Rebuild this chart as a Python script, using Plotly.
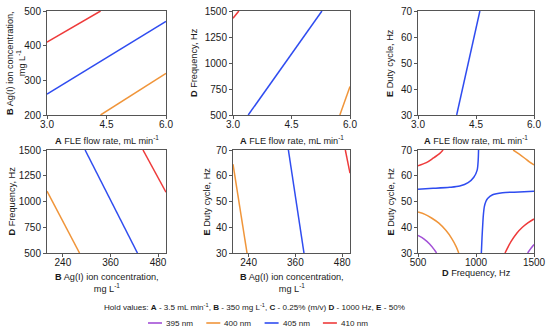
import plotly.graph_objects as go

W, H = 550, 335
FONT = "Liberation Sans, Arial, Helvetica, sans-serif"

wavelengths = ["395 nm", "400 nm", "405 nm", "410 nm"]
colors = {"395 nm": "#a24fd6", "400 nm": "#f0953a", "405 nm": "#2f4cf0", "410 nm": "#ee3a3a"}

# Panel 1: A (x) vs B (y)
p1_x_410 = [3.0, 4.35]; p1_y_410 = [410, 500]
p1_x_405 = [3.0, 6.0];  p1_y_405 = [260, 470]
p1_x_400 = [4.35, 6.0]; p1_y_400 = [200, 320]

# Panel 2: A (x) vs D (y)
p2_x_410 = [3.0, 3.15]; p2_y_410 = [1430, 1500]
p2_x_405 = [3.39, 5.28]; p2_y_405 = [500, 1500]
p2_x_400 = [5.74, 6.0]; p2_y_400 = [500, 775]

# Panel 3: A (x) vs E (y)
p3_x_405 = [4.0, 4.6]; p3_y_405 = [30, 70]

# Panel 4: B (x) vs D (y)
p4_x_400 = [200, 282]; p4_y_400 = [1100, 500]
p4_x_405 = [296, 428]; p4_y_405 = [1500, 500]
p4_x_410 = [442, 500]; p4_y_410 = [1500, 1090]

# Panel 5: B (x) vs E (y)
p5_x_400 = [200, 236]; p5_y_400 = [64.5, 30]
p5_x_405 = [342, 382]; p5_y_405 = [70, 30]
p5_x_410 = [488, 500]; p5_y_410 = [70, 61]

# Panel 6: D (x) vs E (y)  (None separates branches)
p6_x_405 = [500, 630, 774, 860, 932, 981, 1010, 1019, 1022, None,
            1046, 1052, 1058, 1064, 1072, 1085, 1100, 1143, 1229, 1371, 1500]
p6_y_405 = [54.8, 55.1, 55.5, 56.0, 57.3, 59.4, 62.2, 66.1, 70, None,
            30, 36, 41, 45, 48, 50, 51.2, 52.6, 53.4, 53.7, 54.0]
p6_x_410 = [500, 572, 630, 688, 716, None, 1250, 1300, 1350, 1400, 1450, 1500]
p6_y_410 = [63.9, 65.1, 66.8, 68.7, 70, None, 30, 34.3, 37.6, 40, 41.8, 43.2]
p6_x_400 = [500, 560, 620, 680, 740, 790, 830, 851, None, 1320, 1370, 1420, 1460, 1500]
p6_y_400 = [45.9, 45.0, 43.5, 41.6, 38.8, 35.7, 32.4, 30, None, 70, 68.5, 66.8, 65.4, 64.2]
p6_x_395 = [500, 550, 600, 640, 660, None, 1445, 1470, 1500]
p6_y_395 = [36.8, 35.5, 33.5, 31.3, 30, None, 30, 31.6, 33.3]

panels = [
    [("410 nm", p1_x_410, p1_y_410), ("405 nm", p1_x_405, p1_y_405), ("400 nm", p1_x_400, p1_y_400)],
    [("410 nm", p2_x_410, p2_y_410), ("405 nm", p2_x_405, p2_y_405), ("400 nm", p2_x_400, p2_y_400)],
    [("405 nm", p3_x_405, p3_y_405)],
    [("400 nm", p4_x_400, p4_y_400), ("405 nm", p4_x_405, p4_y_405), ("410 nm", p4_x_410, p4_y_410)],
    [("400 nm", p5_x_400, p5_y_400), ("405 nm", p5_x_405, p5_y_405), ("410 nm", p5_x_410, p5_y_410)],
    [("395 nm", p6_x_395, p6_y_395), ("400 nm", p6_x_400, p6_y_400),
     ("405 nm", p6_x_405, p6_y_405), ("410 nm", p6_x_410, p6_y_410)],
]

# axis factors
A_range = [3.0, 6.0]; A_ticks = [3.0, 4.5, 6.0]
B_range = [200, 500]; B_ticks_y = [200, 300, 400, 500]; B_ticks_x = [240, 360, 480]
D_range = [500, 1500]; D_ticks_y = [500, 750, 1000, 1250, 1500]; D_ticks_x = [500, 1000, 1500]
E_range = [30, 70]; E_ticks = [30, 40, 50, 60, 70]

A_title = "<b>A</b> FLE flow rate, mL min<sup>-1</sup>"
B_title = "<b>B</b> Ag(I) ion concentration,<br>mg L<sup>-1</sup>"
D_title = "<b>D</b> Frequency, Hz"
E_title = "<b>E</b> Duty cycle, Hz"

hold_text = ("Hold values: <b>A</b> - 3.5 mL min<sup>-1</sup>, <b>B</b> - 350 mg L<sup>-1</sup>, "
             "<b>C</b> - 0.25% (m/v) <b>D</b> - 1000 Hz, <b>E</b> - 50%")

axes_spec = [
    (A_range, A_ticks, ".1f", B_range, B_ticks_y, A_title, B_title),
    (A_range, A_ticks, ".1f", D_range, D_ticks_y, A_title, D_title),
    (A_range, A_ticks, ".1f", E_range, E_ticks, A_title, E_title),
    (B_range, B_ticks_x, "d", D_range, D_ticks_y, B_title, D_title),
    (B_range, B_ticks_x, "d", E_range, E_ticks, B_title, E_title),
    (D_range, D_ticks_x, "d", E_range, E_ticks, D_title, E_title),
]

# pixel boxes of panels (left, right, top, bottom)
cols = [(47, 166), (233, 350), (418, 534)]
rows = [(11, 115), (150, 253)]
ytitle_x = [[16, 194, 390], [11, 206, 390]]

fig = go.Figure()
annotations = []
shapes = []

for i, (xr, xt, xfmt, yr, yt, xtitle, ytitle) in enumerate(axes_spec):
    r, c = divmod(i, 3)
    l, rr = cols[c]
    t, b = rows[r]
    xa = "xaxis" if i == 0 else f"xaxis{i+1}"
    ya = "yaxis" if i == 0 else f"yaxis{i+1}"
    xref = "x" if i == 0 else f"x{i+1}"
    yref = "y" if i == 0 else f"y{i+1}"
    common = dict(showgrid=False, zeroline=False, showline=True, mirror=True,
                  linecolor="#555555", linewidth=1, ticks="outside", ticklen=3,
                  tickcolor="#555555", tickfont=dict(family=FONT, size=10, color="#1a1a1a"),
                  automargin=False)
    fig.update_layout(**{
        xa: dict(domain=[l / W, rr / W], range=xr, tickvals=xt, tickformat=xfmt,
                 anchor=yref, ticklabelstandoff=-3, **common),
        ya: dict(domain=[1 - b / H, 1 - t / H], range=yr, tickvals=yt, anchor=xref, **common),
    })
    for name, xs, ys in panels[i]:
        fig.add_trace(go.Scatter(x=xs, y=ys, mode="lines", xaxis=xref, yaxis=yref,
                                 line=dict(color=colors[name], width=1.5, shape="spline", smoothing=0.8),
                                 showlegend=False, hoverinfo="skip"))
    # x title
    if r == 0:
        xt_y = 140
    else:
        xt_y = 283 if "<br>" in xtitle else 273
    annotations.append(dict(text=xtitle, x=(l + rr) / 2 / W, y=1 - xt_y / H, xref="paper", yref="paper",
                            showarrow=False, xanchor="center", yanchor="middle",
                            font=dict(family=FONT, size=9.2, color="#1a1a1a")))
    # y title
    annotations.append(dict(text=ytitle, x=ytitle_x[r][c] / W, y=1 - (t + b) / 2 / H,
                            xref="paper", yref="paper",
                            showarrow=False, textangle=-90, xanchor="center", yanchor="middle",
                            font=dict(family=FONT, size=9.2, color="#1a1a1a")))

annotations.append(dict(text=hold_text, x=254 / W, y=1 - 307 / H, xref="paper", yref="paper",
                        showarrow=False, xanchor="center", yanchor="middle",
                        font=dict(family=FONT, size=8.1, color="#1a1a1a")))

# manual legend
for k, name in enumerate(wavelengths):
    x0 = 148 + k * 58.3
    shapes.append(dict(type="line", xref="paper", yref="paper", x0=x0 / W, x1=(x0 + 14) / W,
                       y0=1 - 323 / H, y1=1 - 323 / H, line=dict(color=colors[name], width=1.6)))
    annotations.append(dict(text=name, x=(x0 + 16) / W, y=1 - 323 / H, xref="paper", yref="paper",
                            showarrow=False, xanchor="left", yanchor="middle",
                            font=dict(family=FONT, size=8.1, color="#1a1a1a")))

fig.update_layout(width=W, height=H, margin=dict(l=0, r=0, t=0, b=0, pad=0, autoexpand=False),
                  paper_bgcolor="white", plot_bgcolor="white",
                  annotations=annotations, shapes=shapes, showlegend=False)

fig.write_html("out.html", config={"displayModeBar": False},
               post_script="document.body.style.margin='0';document.body.style.overflow='hidden';")
